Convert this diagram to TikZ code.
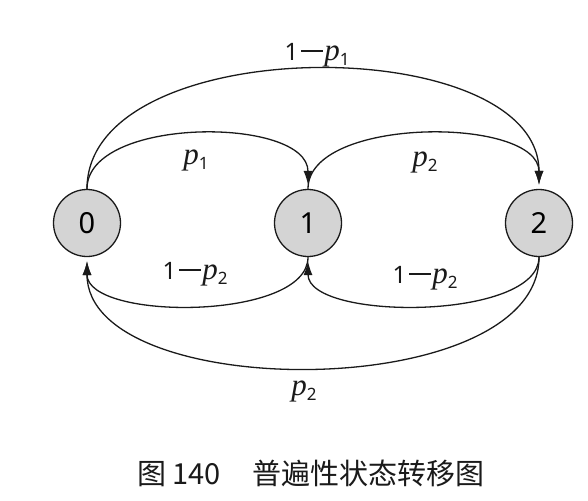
\documentclass[tikz,border=0pt]{standalone}
\usepackage{fontspec}
\usetikzlibrary{arrows.meta}
\newfontfamily\cjkf{Noto Sans CJK SC}
\newfontfamily\digf{Noto Sans}
\newfontfamily\pfont{Liberation Serif}
\definecolor{nodegray}{HTML}{D4D4D4}
\definecolor{ink}{HTML}{1A1A1A}
\newcommand\pv[1]{{\fontsize{31}{34}\selectfont\pfont\itshape p}\raisebox{-5pt}{\fontsize{17}{17}\selectfont\digf #1}}
\newcommand\onem{{\fontsize{24}{28}\selectfont\digf 1}\hspace{3pt}\rule[8pt]{22pt}{1.9pt}\hspace{1pt}}
\begin{document}
\begin{tikzpicture}[x=1pt,y=-1pt,
  st/.style={circle, draw=ink, fill=nodegray, minimum size=67pt, inner sep=0pt, line width=1.3pt, font=\fontsize{29}{34}\selectfont\digf},
  arr/.style={-{Latex[length=14pt,width=9pt]}, line width=1.3pt, draw=ink, shorten >=4pt},
  lbl/.style={inner sep=0pt, text=ink}]
\useasboundingbox (0,0) rectangle (588,500);
\node[st] (n0) at (87,223) {0};
\node[st] (n1) at (308,223) {1};
\node[st] (n2) at (539,223) {2};
\draw[arr] (n0.north) .. controls (87,116) and (308,116) .. (n1.north);
\draw[arr] (n1.north) .. controls (308,116) and (539,116) .. (n2.north);
\draw[arr] (n0.north) .. controls (87,30) and (539,30) .. (n2.north);
\draw[arr] (n1.south) .. controls (308,321) and (87,321) .. (n0.south);
\draw[arr] (n2.south) .. controls (539,321) and (308,321) .. (n1.south);
\draw[arr] (n2.south) .. controls (539,404) and (87,404) .. (n0.south);
\node[lbl] (l1) at (196,160) {\pv{1}};
\node[lbl] (l2) at (425,162) {\pv{2}};
\node[lbl] (l3) at (317,55) {\onem\pv{1}};
\node[lbl] (l4) at (195,274) {\onem\pv{2}};
\node[lbl] (l5) at (425,278) {\onem\pv{2}};
\node[lbl] (l6) at (304,391) {\pv{2}};
\node[lbl, anchor=west] (cap) at (137,473) {\fontsize{29}{34}\selectfont\cjkf 图 140\hspace{32pt}普遍性状态转移图};
\end{tikzpicture}
\end{document}
